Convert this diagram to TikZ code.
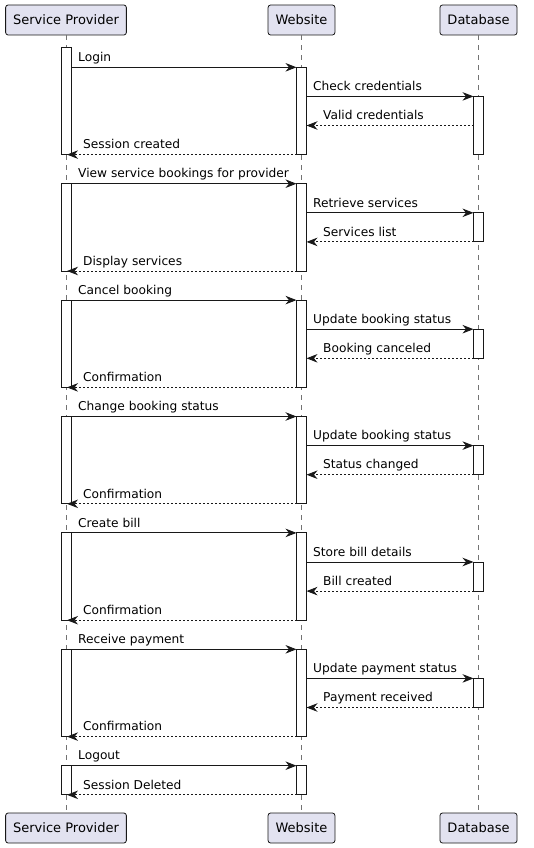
\documentclass[tikz,border=0pt]{standalone}
\usepackage{fontspec}
\setmainfont{DejaVu Sans}
\usetikzlibrary{arrows.meta, positioning}
\definecolor{actorfill}{HTML}{E2E2F0}
\definecolor{ink}{HTML}{181818}

\tikzset{
    actor/.style={draw=ink, fill=actorfill, rounded corners=2.5pt, line width=0.8pt,
        minimum height=30pt, inner xsep=7.5pt, inner ysep=0pt,
        font=\fontsize{13}{15}\selectfont},
    lifeline/.style={draw=black!55, line width=0.6pt, dash pattern=on 5pt off 5pt},
    bar/.style={draw=ink, fill=white, line width=0.9pt},
    call/.style={draw=ink, line width=0.9pt,
        -{Stealth[length=11pt, width=8.5pt, inset=3.5pt]}},
    reply/.style={call, dash pattern=on 2pt off 2pt},
    msg/.style={font=\fontsize{12.2}{14}\selectfont, inner sep=0pt, anchor=base west}
}

\begin{document}
\begin{tikzpicture}[x=1pt, y=-1pt]
    \useasboundingbox (0,0) rectangle (533,848);

    % participants, top and bottom
    \node[actor] (sp) at (66,20) {Service Provider};
    \node[actor] (web) at (301.5,20) {Website};
    \node[actor] (db) at (478.5,20) {Database};
    \node[actor] (spb) at (66,828) {Service Provider};
    \node[actor] (webb) at (301.5,828) {Website};
    \node[actor] (dbb) at (478.5,828) {Database};

    \foreach \p/\q in {sp/spb, web/webb, db/dbb}
        \draw[lifeline] (\p) -- (\q);

    % activations
    \foreach \x/\ya/\yb in {
        66/47/154.6, 66/183.7/271.0, 66/300.1/387.4, 66/416.5/503.8,
        66/532.9/620.2, 66/649.3/736.6, 66/765.7/794.8,
        301.5/67.3/154.6, 301.5/183.7/271.0, 301.5/300.1/387.4, 301.5/416.5/503.8,
        301.5/532.9/620.2, 301.5/649.3/736.6, 301.5/765.7/794.8,
        478.5/96.4/154.6, 478.5/212.8/241.9, 478.5/329.2/358.3,
        478.5/445.6/474.7, 478.5/562.0/591.1, 478.5/678.4/707.5}
        \draw[bar] (\x-5,\ya) rectangle (\x+5,\yb);

    % messages
    \foreach \txt/\xa/\xb/\lx/\kind [count=\n] in {
        Login/71/296.5/78/call,
        Check credentials/306.5/473.5/313/call,
        Valid credentials/473.5/306.5/323/reply,
        Session created/296.5/67/83/reply,
        View service bookings for provider/71/296.5/78/call,
        Retrieve services/306.5/473.5/313/call,
        Services list/473.5/306.5/323/reply,
        Display services/296.5/67/83/reply,
        Cancel booking/71/296.5/78/call,
        Update booking status/306.5/473.5/313/call,
        Booking canceled/473.5/306.5/323/reply,
        Confirmation/296.5/67/83/reply,
        Change booking status/71/296.5/78/call,
        Update booking status/306.5/473.5/313/call,
        Status changed/473.5/306.5/323/reply,
        Confirmation/296.5/67/83/reply,
        Create bill/71/296.5/78/call,
        Store bill details/306.5/473.5/313/call,
        Bill created/473.5/306.5/323/reply,
        Confirmation/296.5/67/83/reply,
        Receive payment/71/296.5/78/call,
        Update payment status/306.5/473.5/313/call,
        Payment received/473.5/306.5/323/reply,
        Confirmation/296.5/67/83/reply,
        Logout/71/296.5/78/call,
        Session Deleted/296.5/67/83/reply}
    {
        \pgfmathsetmacro\y{67.3+29.1*(\n-1)}
        \coordinate (m\n a) at (\xa,\y);
        \coordinate (m\n b) at (\xb,\y);
        \draw[\kind] (m\n a) -- (m\n b);
        \node[msg] (t\n) at (\lx,\y-5.8) {\txt};
    }
\end{tikzpicture}
\end{document}
